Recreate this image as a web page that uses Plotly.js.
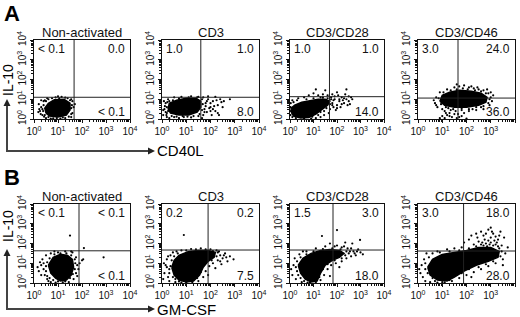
<!DOCTYPE html>
<html><head><meta charset="utf-8">
<script src="https://cdn.plot.ly/plotly-3.0.1.min.js"></script>
<style>html,body{margin:0;padding:0;background:#fff}#chart{width:520px;height:317px}</style>
</head><body><div id="chart"></div>
<script>
// ---- data (log10 decades of fluorescence) ----
const titles = ['Non-activated', 'CD3', 'CD3/CD28', 'CD3/CD46'];
const rowLetters = ['A', 'B'];
const xAxisNames = ['CD40L', 'GM-CSF'];
const yAxisName = 'IL-10';
const tickVals = [0, 1, 2, 3, 4];
const tickLabels = ['10<sup>0</sup>', '10<sup>1</sup>', '10<sup>2</sup>', '10<sup>3</sup>', '10<sup>4</sup>'];

const qA_UL = ['< 0.1', '1.0', '1.0', '3.0'];
const qA_UR = ['0.0', '1.0', '1.0', '24.0'];
const qA_LR = ['< 0.1', '8.0', '14.0', '36.0'];
const qB_UL = ['< 0.1', '0.2', '1.5', '3.0'];
const qB_UR = ['< 0.1', '0.2', '3.0', '18.0'];
const qB_LR = ['< 0.1', '7.5', '18.0', '28.0'];

const gateAX = [1.67, 1.6, 1.68, 1.65];
const gateAY = [1.1, 1.1, 1.13, 1.06];
const gateBX = [1.875, 1.9, 1.83, 1.88];
const gateBY = [1.63, 1.67, 1.67, 1.62];

// dense cores (outline of the saturated black region)
const a1Core = [[0.5,0.3],[0.65,0.15],[1.0,0.1],[1.35,0.2],[1.5,0.45],[1.5,0.8],[1.25,1.0],[0.85,0.98],[0.6,0.8],[0.45,0.55]];
const a2Core = [[0.25,0.5],[0.35,0.3],[0.7,0.2],[1.1,0.2],[1.45,0.35],[1.6,0.6],[1.6,0.9],[1.4,1.05],[1.0,1.05],[0.6,0.95],[0.3,0.8]];
const a3Core = [[0.05,0.35],[0.15,0.15],[0.45,0.05],[0.8,0.08],[1.1,0.25],[1.35,0.5],[1.6,0.7],[1.7,0.9],[1.5,1.0],[1.2,1.0],[0.9,0.95],[0.5,0.85],[0.2,0.7],[0.05,0.55]];
const a4Core = [[0.9,0.9],[1.1,0.7],[1.5,0.6],[2.0,0.6],[2.5,0.7],[2.8,0.85],[2.85,1.1],[2.6,1.3],[2.2,1.4],[1.7,1.45],[1.3,1.35],[1.0,1.2]];
const b1Core = [[0.6,0.9],[0.7,0.5],[0.9,0.25],[1.1,0.1],[1.35,0.15],[1.55,0.4],[1.65,0.8],[1.6,1.2],[1.4,1.4],[1.1,1.45],[0.8,1.3]];
const b2Core = [[0.4,0.8],[0.5,0.4],[0.7,0.15],[1.0,0.05],[1.3,0.1],[1.55,0.4],[1.7,0.8],[1.9,1.1],[2.15,1.3],[2.2,1.55],[1.9,1.65],[1.5,1.65],[1.1,1.6],[0.7,1.4],[0.5,1.15]];
const b3Core = [[0.35,0.9],[0.45,0.5],[0.65,0.2],[0.9,0.05],[1.15,0.1],[1.3,0.5],[1.5,0.9],[1.8,1.15],[2.1,1.3],[2.3,1.5],[2.1,1.65],[1.7,1.7],[1.3,1.65],[0.9,1.5],[0.55,1.25]];
const b4Core = [[0.4,0.8],[0.5,0.4],[0.8,0.15],[1.2,0.1],[1.5,0.3],[1.9,0.6],[2.4,0.9],[2.9,1.1],[3.3,1.3],[3.35,1.6],[3.0,1.8],[2.5,1.8],[2.0,1.65],[1.5,1.55],[1.0,1.45],[0.6,1.2]];

// individual events around the cores
const a1Dots = [[0.3,0.6],[0.25,0.4],[0.35,0.2],[0.2,0.75],[0.4,0.9],[0.55,1.05],[0.9,1.1],[1.15,1.12],[1.4,1.05],[1.6,0.9],[1.65,0.6],[1.6,0.3],[1.55,0.1],[1.3,0.05],[0.8,0.03],[0.5,0.05],[0.18,0.35],[0.3,0.95],[1.7,0.75],[0.7,0.02],[1.1,0.02],[0.42,0.12],[1.55,1.0],[1.0,1.15],
  [0.45,0.95],[0.6,1.0],[0.75,1.05],[1.05,1.05],[1.3,1.08],[1.5,0.95],[1.58,0.7],[1.55,0.55],[1.55,0.25],[1.45,0.12],[1.2,0.08],[0.95,0.05],[0.6,0.1],[0.45,0.2],[0.38,0.4],[0.4,0.7],[0.35,0.5],[0.5,0.9],[0.28,0.25],[0.22,0.5]];
const a2Dots = [[0.05,0.2],[0.1,0.5],[0.15,0.8],[0.2,0.1],[0.3,0.05],[0.5,0.1],[0.7,0.05],[0.9,0.1],[1.2,0.08],[1.5,0.15],[1.7,0.2],[1.75,0.5],[1.8,0.8],[1.9,1.0],[2.0,0.6],[2.1,0.9],[2.2,0.4],[2.3,0.7],[2.4,1.0],[2.5,0.6],[1.85,0.35],[2.05,0.2],[1.7,1.1],[1.9,1.15],[2.2,1.12],[2.8,1.0],[0.25,1.0],[0.5,1.1],[0.8,1.12],[1.2,1.15],[1.5,1.12],[0.08,0.9],[0.2,0.3],[1.65,0.05],[2.35,0.2],[1.95,0.55],[2.15,0.65],[2.45,0.85],[1.8,0.65],[2.0,0.4],
  [0.2,0.6],[0.25,0.4],[0.3,0.9],[0.4,0.15],[0.6,0.12],[0.85,0.15],[1.05,0.12],[1.3,0.15],[1.55,0.25],[1.65,0.45],[1.68,0.75],[1.65,1.0],[1.45,1.1],[1.1,1.1],[0.7,1.05],[0.45,0.95],[0.15,0.35],[1.75,0.35],[1.85,0.9],[2.0,0.8],[2.1,0.5],[2.25,0.95],[2.3,0.3],[2.55,0.9],
  [0.12,0.65],[0.18,0.2],[0.05,0.45],[0.22,0.85]];
const a3Dots = [[1.7,0.5],[1.8,0.8],[1.9,1.0],[2.0,0.7],[2.1,0.9],[2.2,1.1],[2.3,0.8],[2.4,1.0],[2.5,0.9],[2.6,1.1],[1.75,1.1],[1.85,0.6],[2.05,1.2],[2.15,0.6],[2.35,1.25],[2.55,0.75],[1.6,1.2],[1.4,1.25],[1.2,1.2],[1.0,1.3],[0.8,1.2],[1.1,1.5],[1.5,1.45],[2.0,1.35],[2.4,1.5],[1.95,0.45],[1.65,0.3],[1.45,0.2],[1.3,0.1],[1.1,0.05],[0.9,0.02],[0.6,0.02],[0.02,0.2],[0.03,0.8],[0.1,0.95],[0.35,1.05],[0.6,1.1],[1.55,0.85],[1.7,0.75],[1.85,0.95],[2.25,0.95],[2.45,0.7],[2.65,1.0],[1.3,1.1],[1.45,0.4],
  [0.1,0.1],[0.25,0.05],[0.0,0.4],[0.02,0.6],[0.15,0.85],[0.3,0.95],[0.7,1.0],[1.0,1.05],[1.4,1.08],[1.75,1.0],[1.8,0.7],[1.55,0.55],[1.3,0.35],[1.2,0.2],[0.95,0.12],[1.9,1.15],[2.1,1.0],[2.2,0.75],[2.3,1.05],[2.0,0.55],[1.6,1.05],[1.8,1.25],[2.5,1.15]];
const a4Dots = [[0.7,0.8],[0.75,1.1],[0.8,0.6],[0.9,1.35],[1.0,0.5],[1.2,1.5],[1.1,0.4],[1.3,0.3],[1.5,1.6],[1.7,1.65],[1.9,1.7],[2.1,1.6],[2.3,1.55],[2.5,1.5],[2.7,1.45],[2.9,1.3],[3.0,1.1],[3.05,0.9],[2.95,0.7],[2.7,0.5],[2.4,0.45],[2.1,0.4],[1.8,0.45],[1.55,0.4],[1.2,0.2],[1.4,0.1],[1.6,0.05],[1.0,0.15],[1.8,0.15],[0.9,0.05],[2.0,0.02],[1.65,0.25],[3.1,1.2],[2.85,1.5],[1.6,1.75],[0.65,0.95],[1.25,0.55],[2.25,0.5],[2.6,0.6],[1.9,0.3],
  [0.85,1.05],[0.95,0.75],[1.05,1.35],[1.15,0.6],[1.35,1.45],[1.45,0.5],[1.6,1.5],[1.85,1.55],[2.05,1.5],[2.35,1.45],[2.6,1.4],[2.8,1.3],[2.95,1.0],[2.9,0.8],[2.7,0.65],[2.4,0.6],[2.1,0.5],[1.8,0.55],[1.35,0.45],[1.15,0.3],[2.2,1.65],[2.45,1.6],[1.3,0.15],[1.5,0.25],[1.7,0.1],[1.1,0.05],[3.0,1.35],[0.75,0.7]];
const b1Dots = [[0.2,0.6],[0.3,0.9],[0.35,1.2],[0.45,0.4],[0.5,1.4],[0.4,0.7],[0.55,0.2],[0.7,0.05],[0.9,0.02],[1.2,0.03],[1.45,0.05],[1.65,0.2],[1.75,0.5],[1.8,0.9],[1.75,1.3],[1.6,1.55],[1.3,1.6],[1.0,1.55],[0.7,1.5],[1.5,2.4],[2.08,1.77],[2.9,1.3],[2.0,1.15],[2.05,1.2],[0.25,1.05],[0.15,0.8],[1.85,0.7],[0.6,0.1],[1.55,1.6],[0.85,1.6],
  [0.5,0.6],[0.55,0.35],[0.65,0.25],[0.8,0.15],[1.0,0.08],[1.3,0.08],[1.5,0.25],[1.62,0.45],[1.7,0.7],[1.72,1.0],[1.7,1.2],[1.55,1.4],[1.35,1.5],[1.1,1.5],[0.85,1.45],[0.65,1.25],[0.55,1.05],[0.5,0.85],[0.4,1.0],[0.3,0.4],[1.9,1.0],[1.8,0.35]];
const b2Dots = [[0.1,0.5],[0.15,0.9],[0.2,1.2],[0.25,0.3],[0.3,0.7],[0.35,1.4],[0.3,0.1],[0.55,0.05],[0.8,0.02],[1.5,0.1],[1.7,0.3],[1.8,0.6],[1.95,0.85],[2.1,1.0],[2.3,1.15],[2.4,1.4],[2.5,1.25],[2.6,1.5],[2.7,1.1],[2.8,1.35],[2.95,1.2],[2.35,1.6],[2.0,1.7],[1.6,1.75],[1.2,1.72],[0.8,1.65],[0.9,2.43],[0.05,0.2],[0.08,1.0],[2.2,0.75],[1.9,0.4],[2.45,0.95],[0.45,1.55],[0.6,1.6],[2.25,1.65],
  [0.3,0.5],[0.35,0.85],[0.4,1.15],[0.45,0.3],[0.55,0.2],[0.7,0.08],[1.0,0.02],[1.25,0.05],[1.45,0.25],[1.6,0.55],[1.75,0.95],[1.9,1.25],[2.05,1.15],[2.25,1.35],[2.3,1.55],[2.1,1.62],[1.8,1.7],[1.4,1.7],[1.0,1.65],[0.65,1.5],[0.5,1.35],[2.55,1.4],[2.65,1.3],[2.4,1.1],[0.2,0.8],[0.25,1.35]];
const b3Dots = [[0.1,0.4],[0.15,0.9],[0.2,1.25],[0.25,0.2],[0.3,0.6],[0.4,1.45],[0.5,0.05],[0.75,0.02],[1.3,0.15],[1.45,0.4],[1.6,0.7],[1.75,0.9],[1.95,1.0],[2.2,1.1],[2.4,1.25],[2.5,1.5],[2.6,1.35],[2.7,1.6],[2.8,1.4],[2.9,1.7],[3.0,1.55],[2.45,1.75],[2.2,1.8],[1.9,1.85],[1.5,1.85],[1.1,1.75],[0.7,1.6],[2.0,2.68],[2.98,2.18],[1.36,2.38],[2.65,2.0],[2.35,2.05],[1.7,2.0],[0.05,0.7],[2.1,0.8],[1.7,0.35],[0.55,1.6],[3.1,1.45],
  [0.25,0.8],[0.3,1.1],[0.35,0.4],[0.45,0.25],[0.6,0.1],[0.85,0.02],[1.1,0.05],[1.25,0.3],[1.4,0.7],[1.6,0.95],[1.9,1.15],[2.2,1.25],[2.35,1.4],[2.4,1.6],[2.15,1.7],[1.8,1.75],[1.4,1.72],[1.0,1.6],[0.7,1.45],[0.45,1.3],[2.55,1.6],[2.75,1.5],[2.6,1.75],[2.85,1.6],[2.0,1.9],[2.3,1.85]];
const b4Dots = [[0.1,0.5],[0.15,0.9],[0.2,0.3],[0.25,1.2],[0.3,0.1],[0.35,1.5],[0.5,0.05],[0.8,0.02],[1.1,0.03],[1.4,0.1],[1.7,0.25],[2.0,0.4],[2.3,0.55],[2.6,0.7],[2.9,0.85],[3.2,1.0],[3.5,1.2],[3.6,1.5],[3.45,1.9],[3.3,2.2],[3.1,2.5],[2.9,2.7],[2.7,2.4],[2.5,2.1],[2.3,1.95],[2.1,2.2],[2.8,2.0],[3.0,2.3],[3.2,1.95],[2.6,2.6],[3.4,2.6],[3.55,2.3],[2.4,2.5],[1.8,1.8],[1.5,1.75],[1.2,1.7],[0.8,1.6],[0.6,1.5],[2.95,1.95],[3.15,2.15],[2.75,2.2],[2.85,1.85],[3.35,1.75],[0.05,0.7],[1.9,2.05],[3.5,0.9],[2.2,0.3],[3.7,1.8],[3.0,2.8],[2.2,2.4],
  [0.3,0.7],[0.3,1.0],[0.4,0.5],[0.45,1.3],[0.6,0.25],[0.7,0.1],[1.0,0.05],[1.3,0.15],[1.6,0.4],[1.8,0.5],[2.1,0.7],[2.5,0.8],[2.8,0.95],[3.1,1.1],[3.4,1.35],[3.45,1.6],[3.3,1.85],[3.1,1.9],[2.7,1.9],[2.4,1.85],[2.1,1.75],[1.7,1.65],[1.3,1.6],[0.9,1.55],[2.6,1.95],[3.0,2.05],[3.25,2.05],[2.9,2.15],[2.65,2.05],[3.35,2.4],[2.8,2.5],[2.45,2.3],[3.2,2.35],[3.05,2.6]];

const cores = [a1Core, a2Core, a3Core, a4Core, b1Core, b2Core, b3Core, b4Core];
const dots = [a1Dots, a2Dots, a3Dots, a4Dots, b1Dots, b2Dots, b3Dots, b4Dots];

// ---- layout geometry (pixels) ----
const W = 520, H = 317;
const colL = [34, 162, 290, 418], colR = [130, 259, 384, 515];
const rowT = [40, 204], rowB = [119, 283];
const P = x => x / W, Q = y => 1 - y / H;
const FONT = 'Liberation Sans, Arial, Helvetica, sans-serif';
const INK = '#111';

const minorVals = [];
for (let k = 0; k < 4; k++) for (let m = 2; m <= 9; m++) minorVals.push(k + Math.log10(m));

const traces = [], shapes = [], annotations = [];
const layout = {
  width: W, height: H, margin: {l: 0, r: 0, t: 0, b: 0},
  paper_bgcolor: '#fff', plot_bgcolor: '#fff', showlegend: false,
  font: {family: FONT, color: INK}
};

for (let i = 0; i < 8; i++) {
  const row = i < 4 ? 0 : 1, col = i % 4;
  const id = i === 0 ? '' : String(i + 1);
  const xa = 'x' + id, ya = 'y' + id;
  const axBase = {
    range: [0, 4], showgrid: false, zeroline: false, fixedrange: true,
    showline: true, mirror: true, linecolor: INK, linewidth: 1,
    ticks: 'outside', ticklen: 3, tickwidth: 1, tickcolor: INK,
    tickmode: 'array', tickvals: tickVals, ticktext: tickLabels,
    tickfont: {family: FONT, size: 10, color: INK},
    minor: {tickmode: 'array', tickvals: minorVals, ticks: 'outside', ticklen: 2, tickwidth: 1, tickcolor: INK}
  };
  layout['xaxis' + id] = Object.assign({}, axBase, {
    domain: [P(colL[col]), P(colR[col])], anchor: ya, tickangle: 0
  });
  layout['yaxis' + id] = Object.assign({}, axBase, {
    domain: [Q(rowB[row]), Q(rowT[row])], anchor: xa, tickangle: -90
  });

  const core = cores[i], dd = dots[i];
  traces.push({
    type: 'scatter', mode: 'lines', xaxis: xa, yaxis: ya,
    x: core.map(p => p[0]).concat([core[0][0]]), y: core.map(p => p[1]).concat([core[0][1]]),
    fill: 'toself', fillcolor: '#000', line: {color: '#000', width: 1.5}, hoverinfo: 'skip'
  });
  traces.push({
    type: 'scatter', mode: 'markers', xaxis: xa, yaxis: ya,
    x: dd.map(p => p[0]), y: dd.map(p => p[1]),
    marker: {color: '#000', size: 2.2}, hoverinfo: 'skip'
  });

  const gx = row === 0 ? gateAX[col] : gateBX[col];
  const gy = row === 0 ? gateAY[col] : gateBY[col];
  shapes.push({type: 'line', xref: xa, yref: ya, x0: gx, x1: gx, y0: 0, y1: 4, line: {color: '#222', width: 1}});
  shapes.push({type: 'line', xref: xa, yref: ya, x0: 0, x1: 4, y0: gy, y1: gy, line: {color: '#222', width: 1}});

  const L = colL[col], R = colR[col], T = rowT[row], B = rowB[row];
  annotations.push({xref: 'paper', yref: 'paper', x: P((L + R) / 2), y: Q(T - 7.5), text: titles[col],
    showarrow: false, xanchor: 'center', yanchor: 'middle', font: {size: 13, family: FONT, color: INK}});
  const ul = row === 0 ? qA_UL[col] : qB_UL[col];
  const ur = row === 0 ? qA_UR[col] : qB_UR[col];
  const lr = row === 0 ? qA_LR[col] : qB_LR[col];
  const qf = {size: 12, family: FONT, color: INK};
  annotations.push({xref: 'paper', yref: 'paper', x: P(L + 2), y: Q(T + 9), text: ul, showarrow: false, xanchor: 'left', yanchor: 'middle', font: qf});
  annotations.push({xref: 'paper', yref: 'paper', x: P(R - 3), y: Q(T + 9), text: ur, showarrow: false, xanchor: 'right', yanchor: 'middle', font: qf});
  annotations.push({xref: 'paper', yref: 'paper', x: P(R - 3), y: Q(B - 7.5), text: lr, showarrow: false, xanchor: 'right', yanchor: 'middle', font: qf});
}

// row letters and axis arrows
const letterY = [14, 178];
const arrowLineY = [151, 309];
const arrowTopY = [99, 249];
const ilCenterY = [80, 226];
const ARW = '#444';
for (let r = 0; r < 2; r++) {
  annotations.push({xref: 'paper', yref: 'paper', x: P(2), y: Q(letterY[r]), text: '<b>' + rowLetters[r] + '</b>',
    showarrow: false, xanchor: 'left', yanchor: 'middle', font: {size: 22, family: FONT, color: '#000'}});
  const ly = arrowLineY[r], ty = arrowTopY[r];
  shapes.push({type: 'line', xref: 'paper', yref: 'paper', x0: P(7), x1: P(7), y0: Q(ly + 1), y1: Q(ty + 5), line: {color: ARW, width: 2}});
  shapes.push({type: 'line', xref: 'paper', yref: 'paper', x0: P(6), x1: P(149), y0: Q(ly), y1: Q(ly), line: {color: ARW, width: 2}});
  shapes.push({type: 'path', xref: 'paper', yref: 'paper', fillcolor: '#222', line: {width: 0},
    path: `M ${P(7)} ${Q(ty)} L ${P(3.5)} ${Q(ty + 7)} L ${P(10.5)} ${Q(ty + 7)} Z`});
  shapes.push({type: 'path', xref: 'paper', yref: 'paper', fillcolor: '#222', line: {width: 0},
    path: `M ${P(155)} ${Q(ly)} L ${P(148)} ${Q(ly - 3.5)} L ${P(148)} ${Q(ly + 3.5)} Z`});
  annotations.push({xref: 'paper', yref: 'paper', x: P(8), y: Q(ilCenterY[r]), text: yAxisName, textangle: -90,
    showarrow: false, xanchor: 'center', yanchor: 'middle', font: {size: 14, family: FONT, color: '#000'}});
  annotations.push({xref: 'paper', yref: 'paper', x: P(156), y: Q(ly), text: xAxisNames[r], borderpad: 0,
    showarrow: false, xanchor: 'left', yanchor: 'middle', font: {size: 15, family: FONT, color: '#000'}});
}

layout.shapes = shapes;
layout.annotations = annotations;
Plotly.newPlot('chart', traces, layout, {staticPlot: true, displayModeBar: false});
</script>
</body></html>
